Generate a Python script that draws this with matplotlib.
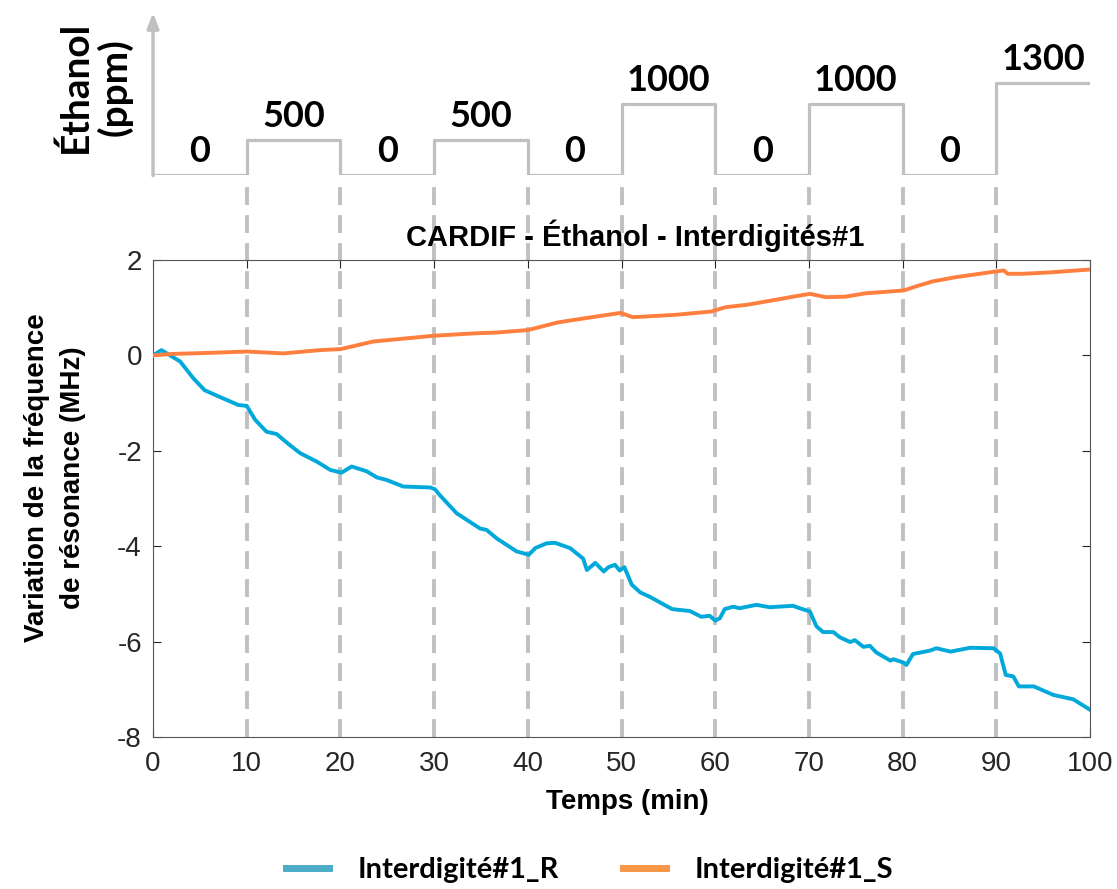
import matplotlib
matplotlib.use("Agg")
import matplotlib.pyplot as plt
from matplotlib.lines import Line2D

# Profil de concentration (ppm) par palier de 10 min
step_edges = [0, 10, 20, 30, 40, 50, 60, 70, 80, 90, 100]
conc = [0, 500, 0, 500, 0, 1000, 0, 1000, 0, 1300]

# Interdigité#1_R
t_R = [0, 0.9, 2.9, 4.3, 5.5, 7.1, 9.1, 10.0, 10.9, 12.1, 13.2, 14.4, 15.7, 17.5,
       18.9, 20.1, 21.2, 22.8, 23.9, 24.9, 26.7, 29.6, 30.1, 30.6, 32.4, 34.9,
       35.6, 36.7, 38.8, 40.1, 40.8, 42.0, 42.9, 44.5, 45.9, 46.3, 47.2, 48.1,
       48.6, 49.3, 49.8, 50.3, 51.1, 52.0, 53.0, 55.4, 57.3, 58.5, 59.4, 60.0,
       60.5, 61.0, 61.9, 62.6, 64.4, 65.8, 68.3, 69.0, 70.1, 70.8, 71.5, 72.6,
       73.3, 74.4, 74.9, 75.8, 76.5, 77.2, 78.7, 79.0, 80.1, 80.4, 81.1, 82.9,
       83.6, 85.1, 87.2, 89.7, 90.4, 91.0, 91.8, 92.4, 94.0, 96.1, 98.2, 100]
y_R = [0, 0.11, -0.13, -0.48, -0.73, -0.87, -1.04, -1.06, -1.35, -1.6, -1.65,
       -1.85, -2.05, -2.23, -2.40, -2.46, -2.33, -2.43, -2.56, -2.61, -2.75,
       -2.77, -2.81, -2.93, -3.31, -3.63, -3.66, -3.84, -4.11, -4.18, -4.04,
       -3.94, -3.93, -4.04, -4.26, -4.50, -4.35, -4.53, -4.44, -4.39, -4.51,
       -4.44, -4.81, -4.97, -5.06, -5.32, -5.36, -5.48, -5.46, -5.56, -5.51,
       -5.32, -5.27, -5.30, -5.23, -5.28, -5.25, -5.30, -5.37, -5.68, -5.80,
       -5.80, -5.91, -6.01, -5.97, -6.11, -6.09, -6.23, -6.40, -6.37, -6.44,
       -6.49, -6.26, -6.19, -6.14, -6.21, -6.13, -6.14, -6.25, -6.70, -6.73,
       -6.94, -6.94, -7.12, -7.21, -7.43]

# Interdigité#1_S
t_S = [0, 2.1, 5.7, 10.0, 13.9, 17.8, 20.0, 23.5, 29.9, 34.2, 36.8, 40.0, 43.2,
       46.5, 49.9, 51.2, 55.8, 59.6, 61.1, 63.4, 66.3, 68.9, 70.1, 71.8, 73.9,
       76.0, 80.1, 81.5, 83.2, 85.7, 90.0, 90.8, 91.2, 92.9, 95.8, 100]
y_S = [0, 0.03, 0.05, 0.08, 0.04, 0.11, 0.13, 0.29, 0.41, 0.46, 0.48, 0.53, 0.69,
       0.79, 0.89, 0.80, 0.85, 0.92, 1.01, 1.06, 1.16, 1.25, 1.29, 1.22, 1.23,
       1.30, 1.36, 1.45, 1.55, 1.64, 1.76, 1.78, 1.71, 1.71, 1.74, 1.80]

blue = "#00a9d9"
orange = "#ff7f3f"
grey = "#c0c0c0"

plt.rcParams["font.family"] = ["Liberation Sans", "DejaVu Sans"]
plt.rcParams["axes.unicode_minus"] = False
calibri_like = ["Lato", "DejaVu Sans"]

fig = plt.figure(figsize=(11.17, 8.89), dpi=100)

# --- main plot
ax = fig.add_axes([0.137, 0.171, 0.8389, 0.5366])
ax.plot(t_R, y_R, color=blue, lw=2.8, zorder=3)
ax.plot(t_S, y_S, color=orange, lw=2.8, zorder=3)
for x in step_edges[1:-1]:
    ax.axvline(x, ymin=0, ymax=1.172, color=grey, lw=2.8,
               dashes=(4.6, 2.6), clip_on=False, zorder=2)
ax.set_xlim(0, 100)
ax.set_ylim(-8, 2)
ax.set_xticks(range(0, 101, 10))
ax.set_yticks(range(-8, 3, 2))
ax.tick_params(direction="in", length=6, top=True, right=True,
               labelsize=20, colors="#262626")
ax.tick_params(axis="x", pad=10)
ax.tick_params(axis="y", pad=8)
for s in ax.spines.values():
    s.set_color("#555555")
ax.set_title("CARDIF - Éthanol - Interdigités#1", fontsize=21,
             fontweight="bold", pad=10)
ax.title.set_x(0.515)
ax.set_xlabel("Temps (min)", fontsize=20, fontweight="bold")
ax.xaxis.set_label_coords(0.506, -0.108)
ax.set_ylabel("Variation de la fréquence\nde résonance (MHz)", fontsize=20,
              fontweight="bold", linespacing=1.5)
ax.yaxis.set_label_coords(-0.072, 0.543)

# --- concentration profile
ax2 = fig.add_axes([0.137, 0.8031, 0.8389, 0.1856])
ax2.step(step_edges, conc + [conc[-1]], where="post", color=grey, lw=2.3)
ax2.set_xlim(0, 100)
ax2.set_ylim(0, 2324)
ax2.axis("off")
ax2.annotate("", xy=(0, 1), xycoords="axes fraction",
             xytext=(0, -0.02), textcoords="axes fraction",
             arrowprops=dict(arrowstyle="-|>,head_width=0.35,head_length=0.9",
                             color=grey, lw=2.5))
for i, c in enumerate(conc):
    mid = (step_edges[i] + step_edges[i + 1]) / 2
    ax2.annotate(str(c), (mid, c), xytext=(0, 5), textcoords="offset points",
                 ha="center", va="bottom", fontsize=26, fontweight="bold",
                 family=calibri_like)

fig.text(95 / 1117, 1 - 87 / 889, "Éthanol\n(ppm)", rotation=90, ha="center",
         va="center", fontsize=28, fontweight="bold", linespacing=1.1,
         family=calibri_like)

# --- legend
handles = [Line2D([], [], color="#4bacc6", lw=5),
           Line2D([], [], color="#f79646", lw=5)]
fig.legend(handles, ["Interdigité#1_R", "Interdigité#1_S"], loc="center",
           bbox_to_anchor=(0.528, 1 - 870 / 889), ncol=2, frameon=False,
           handlelength=1.45, handletextpad=1.0, columnspacing=2.2,
           prop={"family": calibri_like, "weight": "bold", "size": 21})

fig.savefig("out.png", dpi=100)
